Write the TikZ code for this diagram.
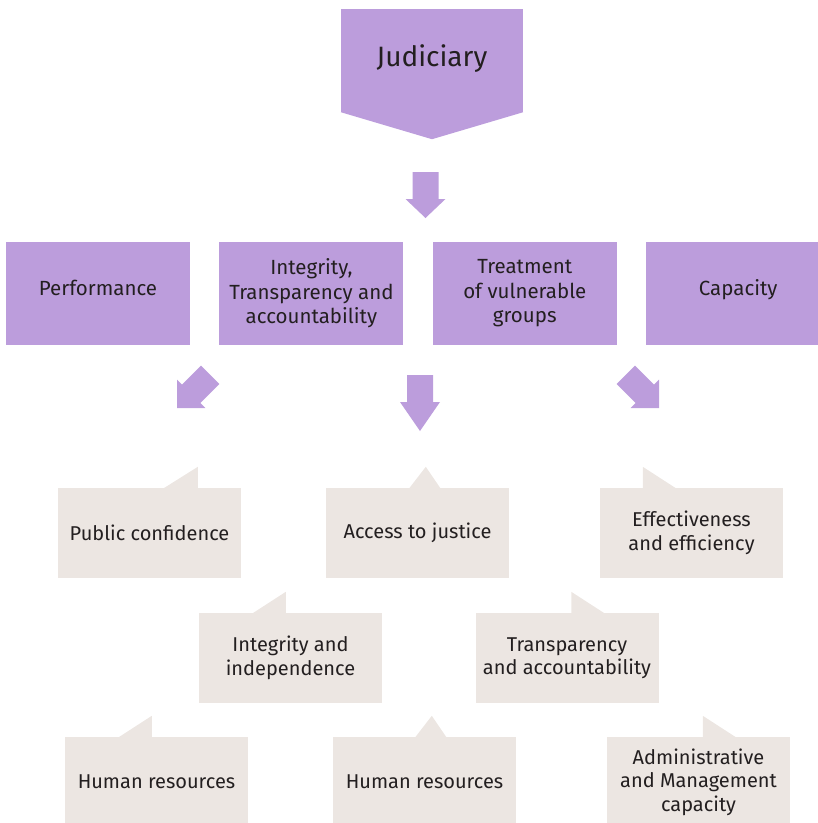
\documentclass[tikz,border=0pt]{standalone}
\usepackage{fontspec}
\setmainfont{Fira Sans}
\usetikzlibrary{positioning}
\usetikzlibrary{calc}
\definecolor{lilac}{RGB}{188,157,220}
\definecolor{stone}{RGB}{236,230,226}
\definecolor{ink}{RGB}{35,31,32}

\tikzset{
  topic/.style={fill=lilac, text=ink, minimum width=184pt, minimum height=103pt,
    inner sep=0pt, align=center, font=\fontsize{20.5}{24.5}\selectfont},
  item/.style={fill=stone, text=ink, minimum width=183pt, minimum height=90pt,
    inner sep=0pt, align=center, font=\fontsize{20}{23.5}\selectfont},
  raised/.style={text height=15pt, text depth=12pt}
}

% block arrow: tip, angle, head length
\newcommand{\blockarrow}[3]{%
  \fill[lilac, shift={#1}, rotate=#2] (0,0) -- (20,-#3) -- (13,-#3) -- (13,-#3-27)
    -- (-13,-#3-27) -- (-13,-#3) -- (-20,-#3) -- cycle;}
% speech tabs on top of an item: slant on the left, slant on the right, centred
\newcommand{\tabR}[3]{%
  \fill[stone] ($(#1.north west)+(#2,1)$) -- ($(#1.north west)+(#3,-21)$) -- ($(#1.north west)+(#3,1)$) -- cycle;}
\newcommand{\tabL}[3]{%
  \fill[stone] ($(#1.north west)+(#2,1)$) -- ($(#1.north west)+(#2,-21)$) -- ($(#1.north west)+(#3,1)$) -- cycle;}
\newcommand{\tabC}[2]{%
  \fill[stone] ($(#1.north west)+(#2-17,1)$) -- ($(#1.north west)+(#2,-21)$) -- ($(#1.north west)+(#2+15,1)$) -- cycle;}

\begin{document}
\begin{tikzpicture}[x=1pt, y=-1pt]
        \useasboundingbox (0,0) rectangle (818,823);
        \clip (0,0) rectangle (818,823);
        % nodes %
        \node[topic, minimum width=182pt, font=\fontsize{28}{32}\selectfont,
              text height=20.7pt, text depth=9pt] (jud) at (432,60.5) {Judiciary};
        \fill[lilac] (jud.south west) -- (jud.south east) -- ($(jud.south)+(0,27)$) -- cycle;

        \node[topic, raised] (perf) at (98,293.5) {Performance};
        \node[topic, right=29pt of perf] (integ) {Integrity,\\Transparency and\\accountability};
        \node[topic, right=29pt of integ] (treat) {Treatment\\of vulnerable\\groups};
        \node[topic, raised, right=29pt of treat] (cap) {Capacity};

        \node[item] (pub) at (149.5,533) {Public confidence};
        \node[item] (acc) at (417.5,533) {Access to justice};
        \node[item] (eff) at (691.5,533) {Effectiveness\\and efficiency};
        \node[item] (indep) at (290.5,658) {Integrity and\\independence};
        \node[item] (transp) at (567,658) {Transparency\\and accountability};
        \node[item] (hr) at (156.5,782) {Human resources};
        \node[item] (hrb) at (424.5,782) {Human resources};
        \node[item] (admin) at (698.5,782) {Administrative\\and Management\\capacity};

        % tabs %
        \tabR{pub}{105}{140}
        \tabC{acc}{100}
        \tabL{eff}{43}{77}
        \tabR{indep}{53}{87}
        \tabL{transp}{96}{130}
        \tabR{hr}{53}{87}
        \tabC{hrb}{99}
        \tabL{admin}{96}{130}

        % arrows %
        \blockarrow{(425.5,218)}{0}{19}
        \blockarrow{(177,408)}{-45}{20}
        \blockarrow{(420,431)}{0}{29}
        \blockarrow{(659,408)}{45}{20}
\end{tikzpicture}
\end{document}
